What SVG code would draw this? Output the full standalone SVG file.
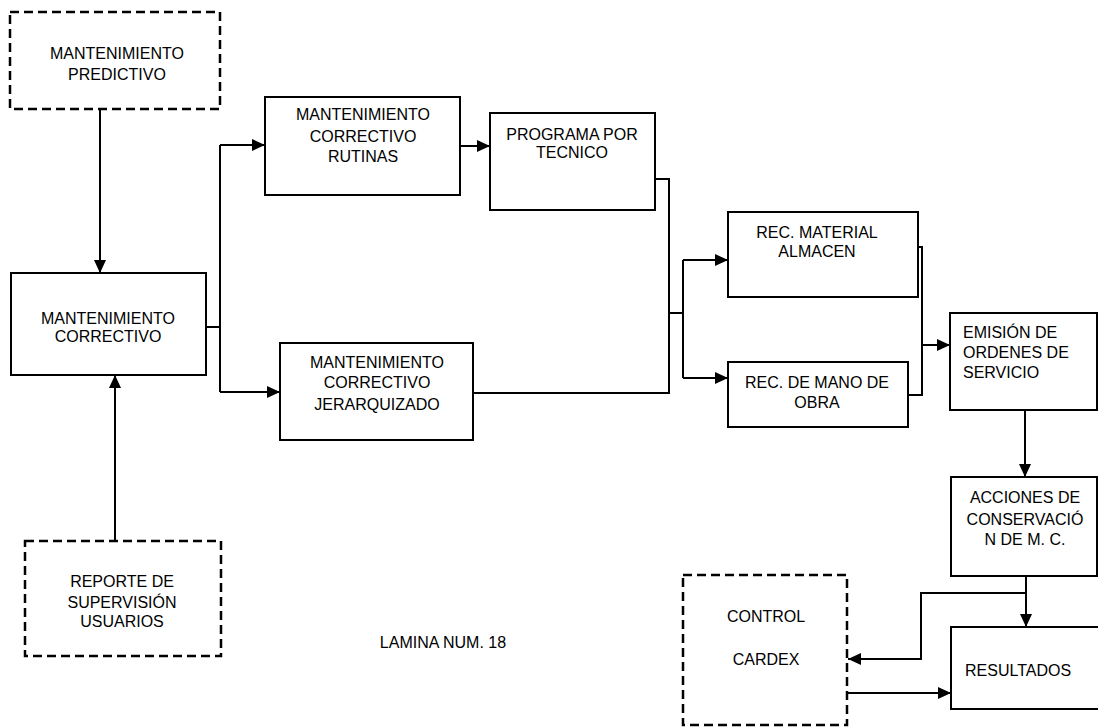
<svg xmlns="http://www.w3.org/2000/svg" width="1098" height="727" viewBox="0 0 1098 727">
<defs>
<marker id="ah" markerUnits="userSpaceOnUse" markerWidth="14" markerHeight="12" refX="13" refY="6" orient="auto">
<path d="M0,0 L13,6 L0,12 Z" fill="#000"/>
</marker>
<style>
.box{fill:#fff;stroke:#000;stroke-width:2}
.dash{fill:#fff;stroke:#000;stroke-width:2.5;stroke-dasharray:9 5}
.ln{fill:none;stroke:#000;stroke-width:2}
.arr{fill:none;stroke:#000;stroke-width:2;marker-end:url(#ah)}
text{font-family:"Liberation Sans",Arial,sans-serif;font-size:16px;fill:#000}
.c{text-anchor:middle}
</style>
</defs>
<rect width="1098" height="727" fill="#fff"/>
<g id="connectors">
<path class="arr" d="M100,110 V273"/>
<path class="arr" d="M115,541 V375"/>
<path class="ln" d="M206,327 H220 M220,145 V392"/>
<path class="arr" d="M220,145 H265"/>
<path class="arr" d="M220,392 H280"/>
<path class="arr" d="M460,146 H490"/>
<path class="ln" d="M655,179 H669 V393 H473"/>
<path class="ln" d="M669,313 H683 M683,260 V378"/>
<path class="arr" d="M683,260 H728"/>
<path class="arr" d="M683,378 H728"/>
<path class="ln" d="M918,247 H922 V395 H908"/>
<path class="arr" d="M922,345 H950"/>
<path class="arr" d="M1025,410 V477"/>
<path class="arr" d="M1026,576 V627"/>
<path class="arr" d="M1026,593 H921 V659 H848"/>
<path class="arr" d="M848,693 H951"/>
</g>
<g id="n-predictivo">
<rect class="dash" x="10" y="12" width="210" height="97"/>
<text class="c" x="117" y="59">MANTENIMIENTO</text>
<text class="c" x="117" y="80">PREDICTIVO</text>
</g>
<g id="n-correctivo">
<rect class="box" x="11" y="273" width="195" height="102"/>
<text class="c" x="108" y="324">MANTENIMIENTO</text>
<text class="c" x="108" y="342">CORRECTIVO</text>
</g>
<g id="n-rutinas">
<rect class="box" x="265" y="97" width="195" height="98"/>
<text class="c" x="363" y="120">MANTENIMIENTO</text>
<text class="c" x="363" y="142">CORRECTIVO</text>
<text class="c" x="363" y="162">RUTINAS</text>
</g>
<g id="n-programa">
<rect class="box" x="490" y="113" width="165" height="97"/>
<text class="c" x="572" y="140">PROGRAMA POR</text>
<text class="c" x="572" y="158">TECNICO</text>
</g>
<g id="n-jerarquizado">
<rect class="box" x="280" y="343" width="193" height="97"/>
<text class="c" x="377" y="368">MANTENIMIENTO</text>
<text class="c" x="377" y="388">CORRECTIVO</text>
<text class="c" x="377" y="410">JERARQUIZADO</text>
</g>
<g id="n-material">
<rect class="box" x="728" y="212" width="190" height="85"/>
<text class="c" x="817" y="238">REC. MATERIAL</text>
<text class="c" x="817" y="257">ALMACEN</text>
</g>
<g id="n-mano">
<rect class="box" x="728" y="362" width="180" height="65"/>
<text class="c" x="817" y="388">REC. DE MANO DE</text>
<text class="c" x="817" y="408">OBRA</text>
</g>
<g id="n-emision">
<rect class="box" x="950" y="313" width="147" height="97"/>
<text x="963" y="338">EMISIÓN DE</text>
<text x="963" y="358">ORDENES DE</text>
<text x="963" y="378">SERVICIO</text>
</g>
<g id="n-acciones">
<rect class="box" x="951" y="477" width="146" height="99"/>
<text class="c" x="1025" y="503">ACCIONES DE</text>
<text class="c" x="1025" y="525">CONSERVACIÓ</text>
<text class="c" x="1025" y="545">N DE M. C.</text>
</g>
<g id="n-resultados">
<rect class="box" x="951" y="627" width="150" height="82"/>
<text x="965" y="676">RESULTADOS</text>
</g>
<g id="n-cardex">
<rect class="dash" x="683" y="575" width="164" height="150"/>
<text class="c" x="766" y="622">CONTROL</text>
<text class="c" x="766" y="665">CARDEX</text>
</g>
<g id="n-reporte">
<rect class="dash" x="25" y="541" width="196" height="115"/>
<text class="c" x="122" y="587">REPORTE DE</text>
<text class="c" x="122" y="608">SUPERVISIÓN</text>
<text class="c" x="122" y="627">USUARIOS</text>
</g>
<text class="c" x="443" y="648">LAMINA NUM. 18</text>
</svg>
